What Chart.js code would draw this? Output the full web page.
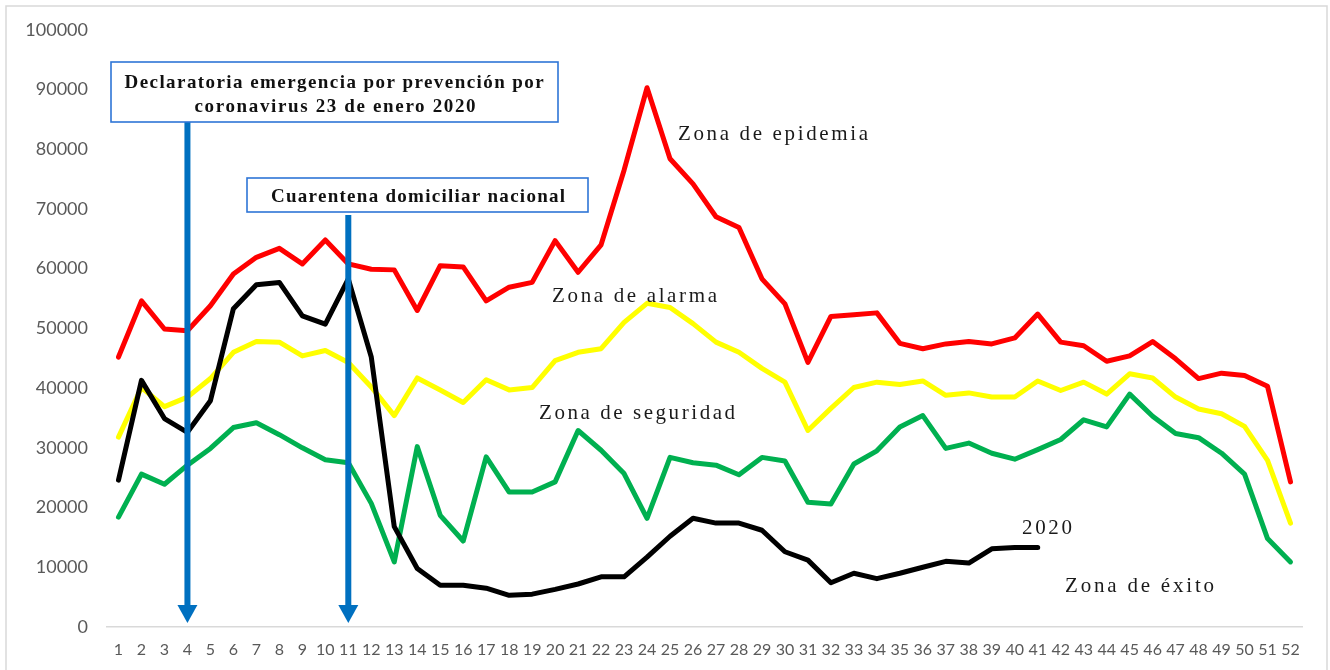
<!DOCTYPE html>
<html>
<head>
<meta charset="utf-8">
<script src="https://cdn.jsdelivr.net/npm/chart.js@4/dist/chart.umd.min.js"></script>
<style>
html,body{margin:0;padding:0;background:#fff;}
#wrap{position:relative;width:1330px;height:670px;}
</style>
</head>
<body>
<div id="wrap"><canvas id="c" width="1330" height="670"></canvas></div>
<script>
const weeks = Array.from({length: 52}, (_, i) => String(i + 1));
const yTicks = [0,10000,20000,30000,40000,50000,60000,70000,80000,90000,100000];

const epidemia = [45200,54600,49900,49600,53800,59100,61900,63400,60800,64800,60800,59900,59800,53000,60500,60300,54600,56900,57700,64700,59400,64000,76500,90300,78400,74200,68700,66900,58300,54100,44300,52000,52300,52600,47500,46600,47400,47800,47400,48400,52400,47700,47100,44500,45400,47800,44900,41600,42500,42100,40300,24300];
const alarma = [31800,40100,36900,38500,41600,46000,47800,47700,45400,46300,44300,40200,35400,41700,39700,37600,41400,39700,40100,44600,46000,46600,51000,54200,53500,50800,47700,46000,43300,41000,32900,36600,40100,41000,40600,41200,38800,39200,38500,38500,41200,39600,41000,39000,42400,41700,38500,36500,35700,33600,27900,17400];
const seguridad = [18400,25600,23900,27100,29900,33400,34200,32200,30000,28000,27500,20700,10900,30200,18700,14400,28500,22600,22600,24300,32900,29600,25700,18200,28400,27500,27100,25500,28400,27800,20900,20600,27300,29500,33500,35400,29900,30800,29100,28100,29700,31400,34700,33500,39000,35300,32400,31700,29100,25600,14800,10900];
const y2020 = [24600,41300,34900,32600,37900,53300,57300,57700,52100,50700,58300,45200,16800,9800,7000,7000,6500,5300,5500,6300,7200,8400,8400,11700,15200,18200,17400,17400,16200,12600,11200,7400,9000,8100,9000,10000,11000,10700,13100,13300,13300];

const eventWeeks = ['4', '11'];
const eventTexts = [["Declaratoria emergencia por prevención por", "coronavirus 23 de enero 2020"], ["Cuarentena domiciliar nacional"]];
const zoneLabels = ["Zona de epidemia", "Zona de alarma", "Zona de seguridad", "2020", "Zona de éxito"];

function fitText(ctx, text, x, y, width, align) {
  ctx.save();
  const w0 = ctx.measureText(text).width;
  const n = text.length - 1;
  let ls = n > 0 ? (width - w0) / n : 0;
  if ('letterSpacing' in ctx) {
    ctx.letterSpacing = ls.toFixed(2) + 'px';
    ctx.textAlign = 'left';
    ctx.fillText(text, align === 'center' ? x - width / 2 : x, y);
  } else {
    ctx.textAlign = 'left';
    let cx = align === 'center' ? x - width / 2 : x;
    for (const ch of text) { ctx.fillText(ch, cx, y); cx += ctx.measureText(ch).width + ls; }
  }
  ctx.restore();
}

const annot = {
  id: 'annot',
  beforeDraw(chart) {
    const ctx = chart.ctx;
    ctx.save();
    ctx.strokeStyle = '#D9D9D9';
    ctx.lineWidth = 1.5;
    ctx.beginPath();
    ctx.moveTo(6, 672); ctx.lineTo(6, 6); ctx.lineTo(1327, 6); ctx.lineTo(1327, 672);
    ctx.stroke();
    ctx.restore();
  },
  afterDatasetsDraw(chart) {
    const ctx = chart.ctx;
    const xs = chart.scales.x, ys = chart.scales.y;
    const boxes = [
      {l:111, t:62, r:558, b:122, arrowTop:122, lines:[{cx:334, y:88, w:419}, {cx:335, y:112, w:281}]},
      {l:247, t:178, r:588, b:212, arrowTop:215, lines:[{cx:418, y:202, w:294}]}
    ];
    ctx.save();
    // arrows
    eventWeeks.forEach((wk, i) => {
      const x = xs.getPixelForValue(xs.getLabels().indexOf(wk));
      const tip = ys.getPixelForValue(0) - 4;
      const headH = 18, headW = 10;
      ctx.fillStyle = '#0070C0';
      ctx.fillRect(x - 3, boxes[i].arrowTop, 6, tip - headH - boxes[i].arrowTop + 1);
      ctx.beginPath();
      ctx.moveTo(x - headW, tip - headH);
      ctx.lineTo(x + headW, tip - headH);
      ctx.lineTo(x, tip);
      ctx.closePath();
      ctx.fill();
    });
    // boxes
    boxes.forEach((bx, i) => {
      ctx.fillStyle = '#ffffff';
      ctx.fillRect(bx.l, bx.t, bx.r - bx.l, bx.b - bx.t);
      ctx.strokeStyle = '#2E75D6';
      ctx.lineWidth = 1.6;
      ctx.strokeRect(bx.l, bx.t, bx.r - bx.l, bx.b - bx.t);
      ctx.fillStyle = '#111111';
      ctx.font = 'bold 19px "Liberation Serif", serif';
      ctx.textBaseline = 'alphabetic';
      eventTexts[i].forEach((t, j) => fitText(ctx, t, bx.lines[j].cx, bx.lines[j].y, bx.lines[j].w, 'center'));
    });
    // zone labels
    const pos = [
      {x:678, y:140, w:190},
      {x:552, y:302, w:165},
      {x:539, y:419, w:196},
      {x:1022, y:534, w:50},
      {x:1065, y:592, w:149}
    ];
    ctx.fillStyle = '#1a1a1a';
    ctx.font = '21px "Liberation Serif", serif';
    ctx.textBaseline = 'alphabetic';
    zoneLabels.forEach((t, i) => fitText(ctx, t, pos[i].x, pos[i].y, pos[i].w, 'left'));
    ctx.restore();
  }
};

function ds(label, data, color) {
  return {label, data, borderColor: color, backgroundColor: color, borderWidth: 5,
    pointRadius: 0, pointHoverRadius: 0, tension: 0, fill: false,
    borderJoinStyle: 'round', borderCapStyle: 'round'};
}

new Chart(document.getElementById('c'), {
  type: 'line',
  data: {
    labels: weeks,
    datasets: [
      ds('2020', y2020, '#000000'),
      ds('Zona de epidemia', epidemia, '#FF0000'),
      ds('Zona de alarma', alarma, '#FFFF00'),
      ds('Zona de seguridad', seguridad, '#00B050')
    ]
  },
  options: {
    responsive: false,
    animation: false,
    devicePixelRatio: 1,
    layout: {padding: {top: 28, right: 28, bottom: 0, left: 0}},
    plugins: {legend: {display: false}, tooltip: {enabled: false}},
    scales: {
      x: {
        type: 'category',
        offset: true,
        grid: {display: false, drawTicks: false},
        border: {display: true, color: '#D9D9D9', width: 1.5},
        ticks: {color: '#595959', font: {family: 'Lato', size: 16}, padding: 13, maxRotation: 0, autoSkip: false},
        afterFit(s) { s.height = 43; }
      },
      y: {
        min: 0, max: 100000,
        afterBuildTicks(s) { s.ticks = yTicks.map(v => ({value: v})); },
        grid: {display: false, drawTicks: false},
        border: {display: false},
        ticks: {color: '#595959', font: {family: 'Lato', size: 18}, padding: 19, callback: v => String(v)},
        afterFit(s) { s.width = 107; }
      }
    }
  },
  plugins: [annot]
});
</script>
</body>
</html>
